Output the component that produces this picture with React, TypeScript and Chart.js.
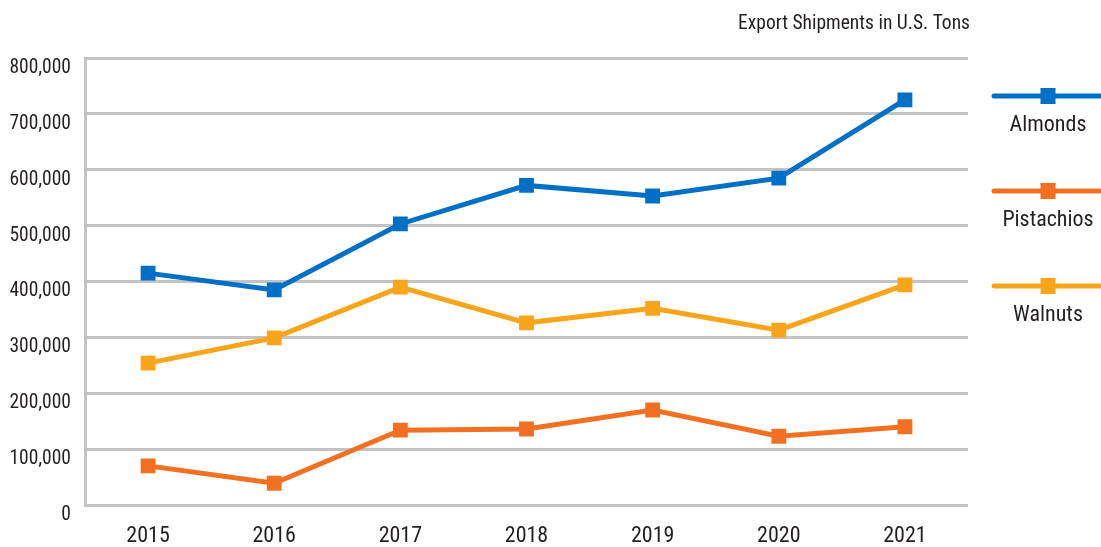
import React, { useEffect, useRef } from "react";
import { Chart, registerables } from "chart.js";

Chart.register(...registerables);

const years = ["2015", "2016", "2017", "2018", "2019", "2020", "2021"];
const almonds = [415000, 385000, 503000, 572000, 553000, 585000, 725000];
const pistachios = [70000, 39000, 134000, 136000, 170000, 123000, 140000];
const walnuts = [254000, 299000, 390000, 326000, 352000, 313000, 394000];
const seriesNames = ["Almonds", "Pistachios", "Walnuts"];
const seriesColors = ["#0070c6", "#f37022", "#f9a51b"];
const titleText = "Export Shipments in U.S. Tons";

const FONT = "'Roboto Condensed', 'Liberation Sans Narrow', 'DejaVu Sans Condensed', Roboto, sans-serif";
const GRID = "#c3c3c6";
const TEXT = "#231f20";

const sidePlugin = {
  id: "sideLegend",
  afterDraw(chart: any) {
    const ctx = chart.ctx;
    const area = chart.chartArea;
    ctx.save();
    ctx.fillStyle = TEXT;
    ctx.font = `19.5px ${FONT}`;
    ctx.textAlign = "right";
    ctx.textBaseline = "middle";
    ctx.fillText(titleText, area.right + 2, 24);
    chart.data.datasets.forEach((ds: any, i: number) => {
      const y = 96 + i * 95;
      const x0 = area.right + 26;
      const x1 = chart.width;
      const cx = 1048;
      ctx.strokeStyle = ds.borderColor;
      ctx.lineWidth = 5;
      ctx.lineCap = "round";
      ctx.beginPath();
      ctx.moveTo(x0, y);
      ctx.lineTo(x1 + 5, y);
      ctx.stroke();
      ctx.fillStyle = ds.borderColor;
      ctx.fillRect(cx - 7.5, y - 8, 15, 16);
      ctx.fillStyle = TEXT;
      ctx.font = `22px ${FONT}`;
      ctx.textAlign = "center";
      ctx.fillText(ds.label, cx, y + 29);
    });
    ctx.restore();
  },
};

export default function App() {
  const ref = useRef<HTMLCanvasElement>(null);
  useEffect(() => {
    document.body.style.margin = "0";
    const series = [almonds, pistachios, walnuts];
    const chart = new Chart(ref.current!, {
      type: "line",
      data: {
        labels: years,
        datasets: series.map((d, i) => ({
          label: seriesNames[i],
          data: d,
          borderColor: seriesColors[i],
          backgroundColor: seriesColors[i],
          borderWidth: 5,
          pointStyle: "rect",
          pointRadius: 10.5,
          pointBorderWidth: 0,
          pointHoverRadius: 10.5,
          tension: 0,
        })),
      },
      options: {
        animation: false,
        responsive: false,
        maintainAspectRatio: false,
        layout: { padding: { top: 58, right: 133, left: 0, bottom: 0 } },
        plugins: {
          legend: { display: false },
          title: { display: false },
          tooltip: { enabled: false },
        },
        scales: {
          x: {
            offset: true,
            grid: { display: false, drawTicks: false },
            border: { display: false },
            ticks: { color: TEXT, font: { family: FONT, size: 22 }, padding: 18 },
            afterFit: (s: any) => { s.height = 42; },
          },
          y: {
            min: 0,
            max: 800000,
            grid: { color: GRID, lineWidth: 3, drawTicks: false },
            border: { display: true, color: GRID, width: 3 },
            ticks: {
              stepSize: 100000,
              color: TEXT,
              font: { family: FONT, size: 19.5 },
              padding: 14,
              labelOffset: 10,
              callback: (v: any) => Number(v).toLocaleString("en-US"),
            },
            afterFit: (s: any) => { s.width = 85; },
          },
        },
      },
      plugins: [sidePlugin],
    });
    return () => chart.destroy();
  }, []);
  return <canvas ref={ref} width={1101} height={547} style={{ display: "block" }} />;
}
